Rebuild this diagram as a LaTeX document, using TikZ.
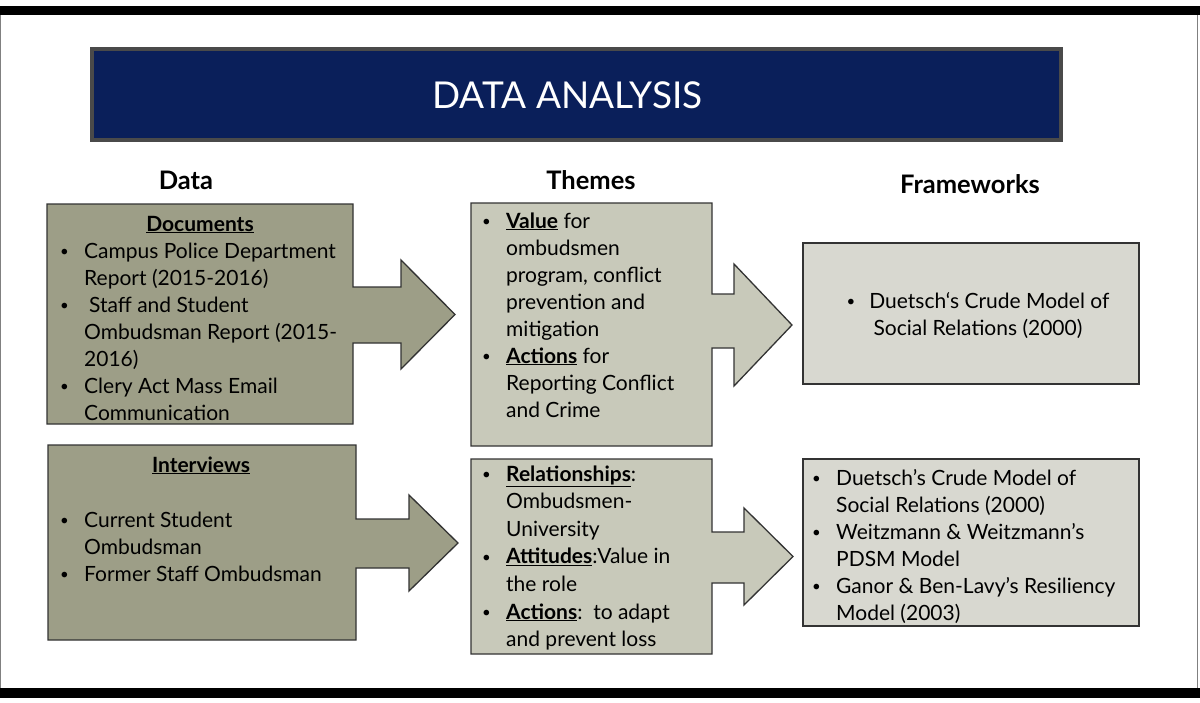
\documentclass[tikz,border=0pt]{standalone}
\usepackage{fontspec}
\setmainfont{Lato}
\definecolor{navy}{HTML}{0A1F5A}
\definecolor{titleborder}{HTML}{4A4A4A}
\definecolor{datafill}{HTML}{9D9E87}
\definecolor{themefill}{HTML}{C8C9BA}
\definecolor{framefill}{HTML}{D8D8D0}
\definecolor{boxline}{HTML}{333333}
\newlength{\bw}\setlength{\bw}{25pt}
\newcommand{\bu}{\makebox[\bw][l]{\hspace*{1pt}\raisebox{1.5pt}{\fontsize{15}{15}\selectfont\textbullet}}}
\newcommand{\ind}{\hspace*{\bw}}
\newcommand{\ub}[1]{\underline{\textbf{#1}}}
\newcommand{\bodyfont}[1]{\fontsize{21}{#1}\selectfont}
\tikzset{
  shapebox/.style={draw=boxline, line width=1.3pt, line join=miter},
  txt/.style={inner sep=0pt, anchor=base west},
  hdr/.style={inner sep=0pt, anchor=base, font=\fontsize{25.5}{28}\selectfont\bfseries},
}
\begin{document}
\begin{tikzpicture}[x=1pt,y=-1pt]
\useasboundingbox (0,0) rectangle (1200,702);
\fill[white] (0,0) rectangle (1200,702);
% frame bars
\fill[black] (0,6) rectangle (1200,15);
\fill[black] (0,688) rectangle (1200,698);
\draw[gray, line width=1pt] (0.5,15) -- (0.5,688);
\draw[gray, line width=1pt] (1197,15) -- (1197,688);
% title
\node[draw=titleborder, line width=4pt, fill=navy, minimum width=969pt, minimum height=91pt, inner sep=0pt] (title) at (576.5,94.5) {};
\node[inner sep=0pt, anchor=base, text=white, font=\fontsize{37}{40}\selectfont] (titletext) at (567.5,108) {DATA ANALYSIS};
% headers
\node[hdr] (hdata) at (186,189) {Data};
\node[hdr] (htheme) at (591,189) {Themes};
\node[hdr] (hframe) at (970,193) {Frameworks};
% shapes
\draw[shapebox, fill=datafill] (47,204) -- (353,204) -- (353,287) -- (401,287) -- (401,260) -- (455,314.5) -- (401,369) -- (401,343) -- (353,343) -- (353,424) -- (47,424) -- cycle;
\draw[shapebox, fill=themefill] (471,203) -- (712,203) -- (712,294) -- (734,294) -- (734,264) -- (792,325) -- (734,386) -- (734,348) -- (712,348) -- (712,446) -- (471,446) -- cycle;
\draw[shapebox, fill=framefill] (803,243) rectangle (1139,384);
\draw[shapebox, fill=datafill] (48,445) -- (356,445) -- (356,519) -- (409,519) -- (409,495) -- (458,543) -- (409,591) -- (409,568) -- (356,568) -- (356,640) -- (48,640) -- cycle;
\draw[shapebox, fill=themefill] (471,459) -- (712,459) -- (712,532) -- (744,532) -- (744,508) -- (793,556.5) -- (744,605) -- (744,583) -- (712,583) -- (712,654) -- (471,654) -- cycle;
\draw[shapebox, fill=framefill] (803,459) rectangle (1139,626);
% data texts
\node[inner sep=0pt, anchor=base, font=\bodyfont{27}] (dochdr) at (200,231) {\ub{Documents}};
\node[txt] (doctext) at (59,258) {\parbox[t]{300pt}{\bodyfont{27}\raggedright
\bu Campus Police Department\\
\ind Report (2015-2016)\\
\bu\hspace*{5pt}Staff and Student\\
\ind Ombudsman Report (2015-\\
\ind 2016)\\
\bu Clery Act Mass Email\\
\ind Communication}};
\node[inner sep=0pt, anchor=base, font=\bodyfont{27}] (inthdr) at (201,472) {\ub{Interviews}};
\node[txt] (inttext) at (59,527) {\parbox[t]{300pt}{\bodyfont{27}\raggedright
\bu Current Student\\
\ind Ombudsman\\
\bu Former Staff Ombudsman}};
% theme texts
\node[txt] (th1text) at (481,228) {\parbox[t]{240pt}{\bodyfont{27}\raggedright
\bu \ub{Value} for\\
\ind ombudsmen\\
\ind program, conflict\\
\ind prevention and\\
\ind mitigation\\
\bu \ub{Actions} for\\
\ind Reporting Conflict\\
\ind and Crime}};
\node[txt] (th2text) at (481,481) {\parbox[t]{240pt}{\bodyfont{27.6}\raggedright
\bu \ub{Relationships}:\\
\ind Ombudsmen-\\
\ind University\\
\bu \ub{Attitudes}:Value in\\
\ind the role\\
\bu \ub{Actions}:\ \ to adapt\\
\ind and prevent loss}};
% framework texts
\node[inner sep=0pt, anchor=base, align=center, font=\bodyfont{27.5}] (fw1text) at (978,335.5) {{\raisebox{1.5pt}{\fontsize{15}{15}\selectfont\textbullet}}\hspace{14pt}Duetsch‘s Crude Model of\\Social Relations (2000)};
\node[txt] (fw2text) at (811,485) {\parbox[t]{330pt}{\bodyfont{27.1}\raggedright
\bu Duetsch’s Crude Model of\\
\ind Social Relations (2000)\\
\bu Weitzmann \& Weitzmann’s\\
\ind PDSM Model\\
\bu Ganor \& Ben-Lavy’s Resiliency\\
\ind Model (2003)}};
\end{tikzpicture}
\end{document}
